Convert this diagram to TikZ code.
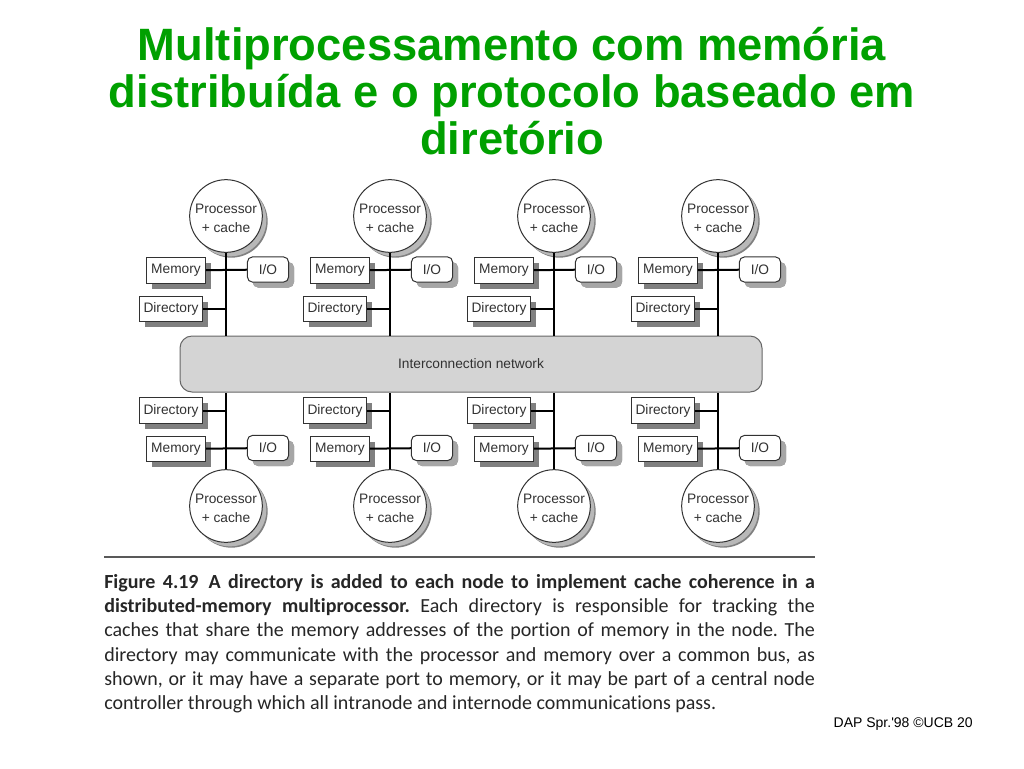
\documentclass[tikz,border=0pt]{standalone}
\usepackage{fontspec}
\setmainfont{Liberation Sans}
\newfontfamily\capfont[Ligatures=NoCommon]{Carlito}
\usepackage{tikz}
\usetikzlibrary{shadows}
\usepackage{xcolor}
\definecolor{titlegreen}{RGB}{0,160,0}
\definecolor{ink}{RGB}{50,50,50}
\definecolor{netgray}{RGB}{212,212,212}
\newcommand{\cpulabel}{\raisebox{0pt}[24pt][0pt]{\shortstack{Processor\\[3pt]+ cache}}}

\begin{document}
\begin{tikzpicture}[x=0.75pt, y=-0.75pt]
\useasboundingbox (0,0) rectangle (1024,768);
\tikzstyle{title} = [anchor=base, inner sep=0pt, text=titlegreen, font=\bfseries\fontsize{34}{36}\selectfont]
\tikzstyle{box} = [draw=ink, fill=white, line width=0.75pt, minimum height=19pt, inner sep=0pt, text=ink, font=\fontsize{10.3}{12.5}\selectfont, drop shadow={shadow xshift=4pt, shadow yshift=-4pt, fill=black!50, opacity=1}]
\tikzstyle{io} = [box, rounded corners=4pt, minimum width=31pt, drop shadow={shadow xshift=4pt, shadow yshift=-4pt, fill=black!35, opacity=1}]
\tikzstyle{cpu} = [box, circle, minimum size=54.5pt, drop shadow={shadow xshift=3pt, shadow yshift=-3pt, fill=black!28, opacity=1}]
\tikzstyle{bus} = [line width=1.5pt, black]
% title
\node[title] (title1) at (512,60) {Multiprocessamento com memória};
\node[title] (title2) at (512,107) {distribuída e o protocolo baseado em};
\node[title] (title3) at (512,154) {diretório};
% interconnection network
\node[draw=black!60, fill=netgray, line width=0.75pt, rounded corners=9pt, minimum width=436.5pt, minimum height=42pt, text=ink, font=\fontsize{10.3}{12.5}\selectfont] (net) at (471,364) {Interconnection network};
\foreach \i/\x in {1/226, 2/390, 3/554, 4/718} {
	% upper nodes
	\node[cpu] (tp\i) at (\x,216) {\cpulabel};
	\node[box, minimum width=44pt] (tm\i) at (\x-50,270.5) {Memory};
	\node[io] (tio\i) at (\x+42,269.5) {I/O};
	\node[box, minimum width=47pt] (td\i) at (\x-55,309) {Directory};
	\draw[bus] (tp\i) -- (tp\i |- net.north);
	\draw[bus] (tm\i) -- (tio\i);
	\draw[bus] (td\i) -- (td\i -| tp\i);
	% lower nodes
	\node[cpu] (bp\i) at (\x,506) {\cpulabel};
	\node[box, minimum width=44pt] (bm\i) at (\x-50,449) {Memory};
	\node[io] (bio\i) at (\x+42,448) {I/O};
	\node[box, minimum width=47pt] (bd\i) at (\x-55,410.5) {Directory};
	\draw[bus] (bp\i) -- (bp\i |- net.south);
	\draw[bus] (bm\i) -- (bio\i);
	\draw[bus] (bd\i) -- (bd\i -| bp\i);
}
% caption
\coordinate (rl) at (104,557);
\coordinate (rr) at (815,557);
\draw[black!65, line width=1.2pt] (rl) -- (rr);
\node[anchor=north west, inner sep=0pt, text width=533pt, align=justify, text=black!85, font=\capfont\fontsize{15}{18.2}\selectfont] (caption) at (104,574) {\tolerance=10000\hyphenpenalty=10000\frenchspacing
{\bfseries Figure 4.19\enspace A directory is added to each node to implement cache coherence in a\linebreak
distributed-memory multiprocessor.} Each directory is responsible for tracking the\linebreak
caches that share the memory addresses of the portion of memory in the node. The\linebreak
directory may communicate with the processor and memory over a common bus, as\linebreak
shown, or it may have a separate port to memory, or it may be part of a central node\linebreak
controller through which all intranode and internode communications pass.};
\node[anchor=base east, inner sep=0pt, font=\fontsize{10.5}{12}\selectfont] (footer) at (973,727) {DAP Spr.\textquotesingle98 \textcopyright UCB 20};
\end{tikzpicture}
\end{document}
